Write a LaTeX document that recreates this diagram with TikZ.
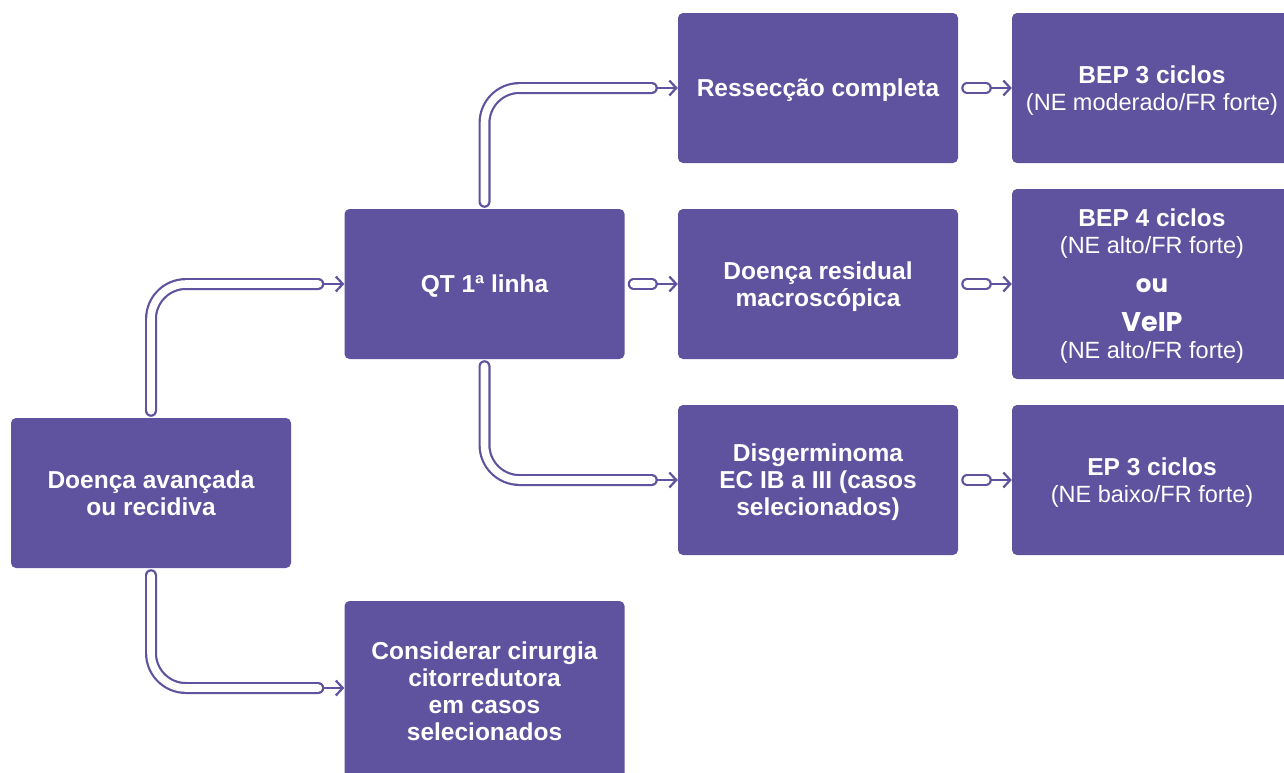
\documentclass[tikz,border=0pt]{standalone}
\usepackage{fontspec}
\setmainfont{Liberation Sans}
\newfontfamily\popfont{Poppins}
\usetikzlibrary{arrows.meta}
\definecolor{vio}{RGB}{95,82,158}
\newcommand{\regtxt}{\fontsize{23.5}{27}\selectfont\mdseries}
\begin{document}
\begin{tikzpicture}[x=1pt,y=-1pt,
  box/.style={fill=vio, rounded corners=5pt, minimum width=280pt, minimum height=150pt,
    text=white, align=center, inner sep=0pt, text depth=0pt,
    font=\fontsize{24.5}{27}\selectfont\bfseries},
  pipe/.style={draw=white, line width=7.6pt, line cap=round, rounded corners=35pt,
    preaction={draw=vio, line width=12pt, line cap=round}},
  arr/.style={draw=vio, line width=2.2pt, -{Straight Barb[length=7pt,width=15pt]}}]
\useasboundingbox (0,0) rectangle (1284,772);
\node[box] (A) at (151,493) {Doença avançada\\ou recidiva};
\node[box] (B) at (484.5,284) {QT 1ª linha};
\node[box, minimum height=180pt] (C) at (484.5,691) {Considerar cirurgia\\citorredutora\\em casos\\selecionados};
\node[box] (D) at (818,88) {Ressecção completa};
\node[box] (E) at (818,284) {Doença residual\\macroscópica};
\node[box] (F) at (818,480) {Disgerminoma\\EC IB a III (casos\\selecionados)};
\node[box] (G) at (1152,88) {BEP 3 ciclos\\{\regtxt (NE moderado/FR forte)}};
\node[box, minimum height=190pt] (H) at (1152,284) {BEP 4 ciclos\\{\regtxt (NE alto/FR forte)}\\[12pt]{\popfont\bfseries ou}\\[12pt]{\popfont\bfseries\fontsize{27}{27}\selectfont VeIP}\\{\regtxt (NE alto/FR forte)}};
\node[box] (I) at (1152,480) {EP 3 ciclos\\{\regtxt (NE baixo/FR forte)}};
% A -> B
\draw[arr] ([xshift=-26pt]B.west) -- (B.west);
\draw[pipe] ([yshift=7pt]A.north) |- ([xshift=-26pt]B.west);
% A -> C
\draw[arr] ([xshift=-26pt,yshift=3pt]C.west) -- ([yshift=3pt]C.west);
\draw[pipe] ([yshift=-7pt]A.south) |- ([xshift=-26pt,yshift=3pt]C.west);
% B -> D
\draw[arr] ([xshift=-26pt]D.west) -- (D.west);
\draw[pipe] ([yshift=7pt]B.north) |- ([xshift=-26pt]D.west);
% B -> F
\draw[arr] ([xshift=-26pt]F.west) -- (F.west);
\draw[pipe] ([yshift=-7pt]B.south) |- ([xshift=-26pt]F.west);
% B -> E
\draw[arr] ([xshift=-26pt]E.west) -- (E.west);
\draw[pipe] ([xshift=9pt]B.east) -- ([xshift=-26pt]E.west);
% D -> G
\draw[arr] ([xshift=-26pt]G.west) -- (G.west);
\draw[pipe] ([xshift=9pt]D.east) -- ([xshift=-26pt]G.west);
% E -> H
\draw[arr] ([xshift=-26pt]H.west) -- (H.west);
\draw[pipe] ([xshift=9pt]E.east) -- ([xshift=-26pt]H.west);
% F -> I
\draw[arr] ([xshift=-26pt]I.west) -- (I.west);
\draw[pipe] ([xshift=9pt]F.east) -- ([xshift=-26pt]I.west);
\end{tikzpicture}
\end{document}
